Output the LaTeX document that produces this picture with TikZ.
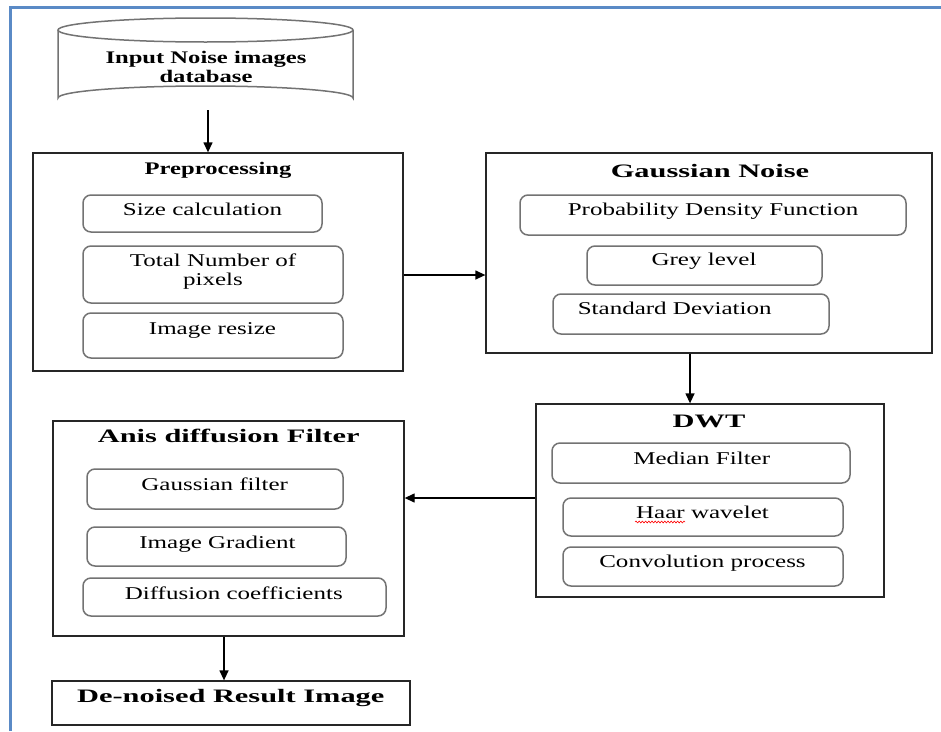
\documentclass[tikz,border=0pt]{standalone}
\usepackage{fontspec}
\usetikzlibrary{arrows.meta,decorations.pathmorphing}
\newfontfamily\itemfont{Liberation Serif}[FakeStretch=1.39]
\newfontfamily\titlefont{Liberation Serif}[FakeStretch=1.6]
\definecolor{framecol}{RGB}{90,138,198}
\definecolor{itemcol}{RGB}{115,115,115}
\tikzset{
  outerbox/.style={draw=black!85, line width=1.3pt, inner sep=0pt},
  itembox/.style={draw=itemcol, line width=1.5pt, rounded corners=8pt, inner sep=0pt},
  itemtxt/.style={font=\itemfont\fontsize{18}{19}\selectfont, inner sep=0pt, anchor=base},
  smalltitle/.style={font=\itemfont\bfseries\fontsize{17.7}{19}\selectfont, inner sep=0pt, anchor=base},
  bigtitle/.style={font=\titlefont\bfseries\fontsize{19}{21}\selectfont, inner sep=0pt, anchor=base},
  conn/.style={draw=black, line width=1.3pt, -{Triangle[length=10pt,width=9pt]}},
  cyl/.style={draw=itemcol, line width=1.5pt}
}
\begin{document}
\begin{tikzpicture}[x=1pt,y=-1pt]
\useasboundingbox (0,0) rectangle (941,731);
\fill[white] (0,0) rectangle (941,731);
% blue frame
\draw[framecol, line width=2.7pt] (10.7,731) -- (10.7,7.5) -- (941,7.5);

% database cylinder
\draw[cyl] (205.5,30) ellipse (147.5pt and 12pt);
\draw[cyl] (58,30) -- (58,98) arc (180:0:147.5pt and 12pt) -- (353,30);
\node[inner sep=0pt, minimum width=295pt, minimum height=50pt, align=center,
      font=\itemfont\bfseries\fontsize{17.7}{19}\selectfont] (db) at (206,66.5)
      {Input Noise images\\database};

% Preprocessing
\node[outerbox, minimum width=370pt, minimum height=218pt] (pre) at (218,262) {};
\node[smalltitle] (pret) at (218,174) {Preprocessing};
\node[itembox, minimum width=239pt, minimum height=37pt] (sc) at (202.5,213.5) {};
\node[itemtxt] (sct) at (202.5,215) {Size calculation};
\node[itembox, minimum width=260pt, minimum height=57pt] (tn) at (213,274.5) {};
\node[inner sep=0pt, align=center, font=\itemfont\fontsize{18}{19}\selectfont] (tnt) at (213,272) {Total Number of\\pixels};
\node[itembox, minimum width=260pt, minimum height=45pt] (ir) at (213,335.5) {};
\node[itemtxt] (irt) at (212.5,334.3) {Image resize};

% Gaussian Noise
\node[outerbox, minimum width=446pt, minimum height=200pt] (gauss) at (709,253) {};
\node[bigtitle] (gausst) at (710,177) {Gaussian Noise};
\node[itembox, minimum width=386pt, minimum height=40pt] (pdf) at (713,215) {};
\node[itemtxt] (pdft) at (713,215) {Probability Density Function};
\node[itembox, minimum width=235pt, minimum height=39pt] (gl) at (704.5,265.5) {};
\node[itemtxt] (glt) at (704,265.3) {Grey level};
\node[itembox, minimum width=276pt, minimum height=40pt] (sd) at (691,314) {};
\node[itemtxt] (sdt) at (674.7,314) {Standard Deviation};

% DWT
\node[outerbox, minimum width=348pt, minimum height=193pt] (dwt) at (710,500.5) {};
\node[bigtitle] (dwtt) at (709,427.3) {DWT};
\node[itembox, minimum width=298pt, minimum height=40pt] (mf) at (701,463) {};
\node[itemtxt] (mft) at (701.7,464.3) {Median Filter};
\node[itembox, minimum width=280pt, minimum height=38pt] (hw) at (703,517) {};
\node[itemtxt] (hwt) at (702.5,518.5) {Haar wavelet};
\node[itembox, minimum width=280pt, minimum height=39pt] (cp) at (703,566.5) {};
\node[itemtxt] (cpt) at (702.5,567.3) {Convolution process};
\draw[red, line width=0.6pt, decorate, decoration={snake, amplitude=0.9pt, segment length=3.2pt}] (635,522) -- (685,522);

% Anis diffusion Filter
\node[outerbox, minimum width=351pt, minimum height=215pt] (anis) at (228.5,528.5) {};
\node[bigtitle] (anist) at (228.7,442.7) {Anis diffusion Filter};
\node[itembox, minimum width=256pt, minimum height=40pt] (gf) at (215,489) {};
\node[itemtxt] (gft) at (214.7,490) {Gaussian filter};
\node[itembox, minimum width=259pt, minimum height=39pt] (ig) at (216.5,546.5) {};
\node[itemtxt] (igt) at (217.5,548.3) {Image Gradient};
\node[itembox, minimum width=303pt, minimum height=38pt] (dc) at (234.5,597) {};
\node[itemtxt] (dct) at (233.8,599) {Diffusion coefficients};

% De-noised
\node[outerbox, minimum width=358pt, minimum height=44pt] (den) at (231,703) {};
\node[bigtitle] (dent) at (230.8,702) {De-noised Result Image};

% connectors
\draw[conn] ([xshift=2pt]db.south |- 0,110) -- ([xshift=2pt]db.south |- pre.north);
\draw[conn] ([yshift=-13pt]pre.east) -- ([yshift=-13pt]pre.east -| gauss.west);
\draw[conn] ([xshift=-19pt]gauss.south) -- ([xshift=-19pt]gauss.south |- dwt.north);
\draw[conn] ([yshift=2.5pt]dwt.west) -- ([yshift=2.5pt]dwt.west -| anis.east);
\draw[conn] ([xshift=-4.5pt]anis.south) -- ([xshift=-4.5pt]anis.south |- den.north);
\end{tikzpicture}
\end{document}
